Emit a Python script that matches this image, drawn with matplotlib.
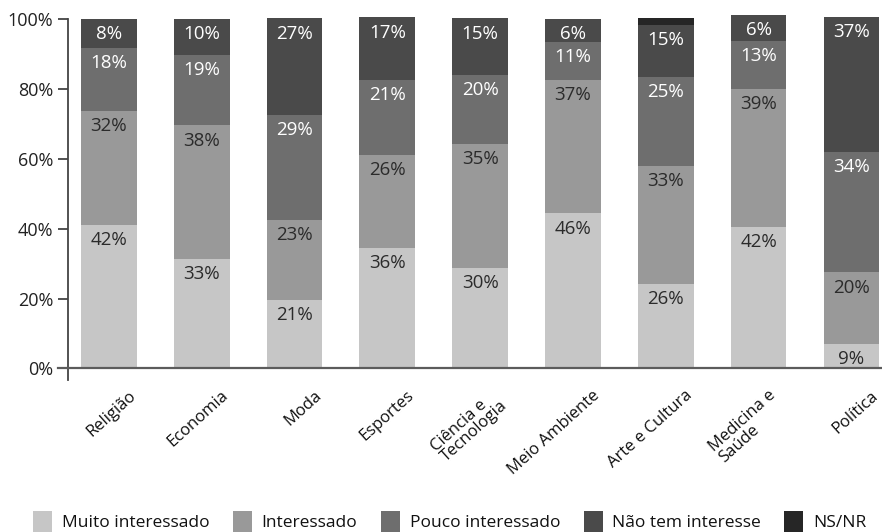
import matplotlib
matplotlib.use("Agg")
import matplotlib.pyplot as plt
import matplotlib.transforms as mtransforms
from matplotlib.patches import Patch
import numpy as np

plt.rcParams['font.family'] = ['Open Sans', 'DejaVu Sans']

categories = ['Religião', 'Economia', 'Moda', 'Esportes', 'Ciência e\nTecnologia',
              'Meio Ambiente', 'Arte e Cultura', 'Medicina e\nSaúde', 'Política']
series_names = ['Muito interessado', 'Interessado', 'Pouco interessado',
                'Não tem interesse', 'NS/NR']

# segment sizes as drawn
muito = [41.1, 31.4, 19.6, 34.6, 28.8, 44.4, 24.2, 40.5, 7.1]
interessado = [32.6, 38.2, 22.9, 26.5, 35.4, 38.1, 33.8, 39.5, 20.4]
pouco = [18.0, 20.1, 30.0, 21.5, 19.9, 10.9, 25.4, 13.7, 34.4]
nao = [8.4, 10.4, 27.7, 17.9, 16.1, 6.6, 15.0, 7.4, 38.7]
nsnr = [0, 0, 0, 0, 0, 0, 1.9, 0, 0]

# printed labels
muito_lbl = [42, 33, 21, 36, 30, 46, 26, 42, 9]
interessado_lbl = [32, 38, 23, 26, 35, 37, 33, 39, 20]
pouco_lbl = [18, 19, 29, 21, 20, 11, 25, 13, 34]
nao_lbl = [8, 10, 27, 17, 15, 6, 15, 6, 37]
nsnr_lbl = [None] * 9

yticks = [0, 20, 40, 60, 80, 100]
ytick_labels = ['0%', '20%', '40%', '60%', '80%', '100%']

colors = ['#c6c6c6', '#999999', '#6e6e6e', '#4a4a4a', '#262626']
text_colors = ['#2b2b2b', '#2b2b2b', 'white', 'white', 'white']

fig = plt.figure(figsize=(8.82, 5.32), dpi=100)
ax = fig.add_axes([68 / 882, (532 - 380) / 532, 1 - 68 / 882, (380 - 19) / 532])

x = np.arange(len(categories))
series = [muito, interessado, pouco, nao, nsnr]
labels = [muito_lbl, interessado_lbl, pouco_lbl, nao_lbl, nsnr_lbl]
bottom = np.zeros(len(categories))
for vals, lbls, col, tcol in zip(series, labels, colors, text_colors):
    vals = np.array(vals, dtype=float)
    ax.bar(x, vals, bottom=bottom, width=0.6, color=col, edgecolor='none',
           clip_on=False, zorder=2)
    tops = bottom + vals
    for xi, top, lb in zip(x, tops, lbls):
        if lb is None:
            continue
        ax.annotate(f'{lb}%', (xi, top), xytext=(0, -11), textcoords='offset points',
                    ha='center', va='center', fontsize=13.5, color=tcol, zorder=3,
                    annotation_clip=False)
    bottom = tops

ax.set_xlim(-0.44, 8.33)
ax.set_ylim(-3.3, 100)
ax.set_yticks(yticks)
ax.set_yticklabels(ytick_labels, fontsize=13, color='#222222')
ax.tick_params(axis='y', length=7, width=1.3, color='#444444', pad=3.5)
ax.set_xticks([])

for s in ['top', 'right', 'bottom']:
    ax.spines[s].set_visible(False)
ax.spines['left'].set_color('#444444')
ax.spines['left'].set_linewidth(1.3)
ax.axhline(0, color='#5c5c5c', lw=1.6, zorder=4, clip_on=False)
ax.plot([-0.55, -0.44], [0, 0], color='#5c5c5c', lw=1.6, clip_on=False, zorder=4)

offset = mtransforms.ScaledTranslation(30 / 100, -19 / 100, fig.dpi_scale_trans)
for xi, cat in zip(x, categories):
    ax.text(xi, 0, cat, transform=ax.transData + offset, rotation=42,
            ha='right', va='top', multialignment='left', linespacing=0.85,
            fontsize=12, color='#111111')

handles = [Patch(facecolor=c, edgecolor='none') for c in colors]
fig.legend(handles, series_names, ncol=5, loc='lower center',
           bbox_to_anchor=(0.51, -0.03), frameon=False, fontsize=12.5,
           handlelength=1.1, handleheight=1.5, handletextpad=0.55,
           columnspacing=1.35, labelcolor='#111111')

fig.savefig('out.png', dpi=100)
